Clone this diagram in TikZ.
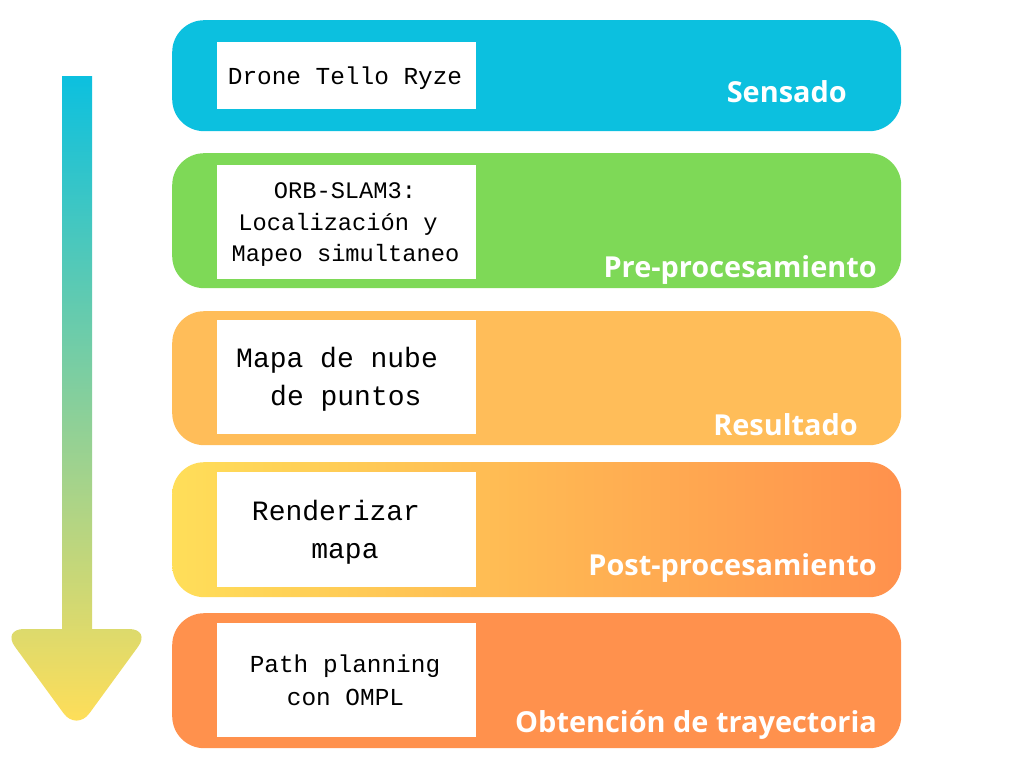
\documentclass[tikz,border=0pt]{standalone}
\usepackage{fontspec}
\setmainfont{Open Sans}
\newfontfamily\monofont{Liberation Mono}
\newfontfamily\labelfont{Open Sans}
\definecolor{cCyan}{HTML}{0CC0DF}
\definecolor{cGreen}{HTML}{7ED957}
\definecolor{cLight}{HTML}{FFBD59}
\definecolor{cYellow}{HTML}{FFDE59}
\definecolor{cOrange}{HTML}{FF914D}
\tikzset{
  band/.style={rounded corners=32pt, inner sep=0pt, minimum width=729pt, anchor=north west, draw=none},
  wbox/.style={fill=white, inner sep=0pt, minimum width=259pt, anchor=north west, draw=none},
  mono/.style={font=\monofont\fontsize{24.4}{29}\selectfont, inner sep=0pt, anchor=base, text=black},
  monobig/.style={font=\monofont\fontsize{28}{34}\selectfont, inner sep=0pt, anchor=base, text=black},
  stage/.style={font=\labelfont\bfseries\fontsize{28.9}{34}\selectfont, text=white, inner sep=0pt, anchor=base east},
  arrowshade/.style={top color=cCyan, bottom color=cYellow},
}
\begin{document}
\begin{tikzpicture}[x=1pt,y=-1pt]
\useasboundingbox (0,0) rectangle (1024,768);
% arrow: shaft and head share one gradient
\begin{scope}
  \clip (62,76) rectangle (92,640);
  \shade[arrowshade] (0,76) rectangle (155,722);
\end{scope}
\begin{scope}
  \clip[rounded corners=22pt] (76.5,629) -- (151,629) -- (76.5,731) -- (2,629) -- cycle;
  \shade[arrowshade] (0,76) rectangle (155,722);
\end{scope}
% bands
\node[band, fill=cCyan,   minimum height=111pt] (b1) at (172,20) {};
\node[band, fill=cGreen,  minimum height=135pt] (b2) at (172,153) {};
\node[band, fill=cLight,  minimum height=134pt] (b3) at (172,311) {};
\node[band, left color=cYellow, right color=cOrange, minimum height=135pt] (b4) at (172,462) {};
\node[band, fill=cOrange, minimum height=135pt] (b5) at (172,613) {};
% white boxes
\node[wbox, minimum height=67pt]  (w1) at (217,42) {};
\node[wbox, minimum height=114pt] (w2) at (217,165) {};
\node[wbox, minimum height=114pt] (w3) at (217,320) {};
\node[wbox, minimum height=115pt] (w4) at (217,472) {};
\node[wbox, minimum height=114pt] (w5) at (217,623) {};
% box texts
\node[mono] (t1) at (345,84) {Drone Tello Ryze};
\node[mono, font=\monofont\fontsize{23.7}{29}\selectfont] (t2a) at (345,198) {ORB-SLAM3:};
\node[mono, font=\monofont\fontsize{23.7}{29}\selectfont] (t2b) at (338,230) {Localización y};
\node[mono, font=\monofont\fontsize{23.7}{29}\selectfont] (t2c) at (345.5,261) {Mapeo simultaneo};
\node[monobig, anchor=base west] (t3a) at (236,367) {Mapa de nube};
\node[monobig, anchor=base west] (t3b) at (270,405) {de puntos};
\node[monobig] (t4a) at (336,520) {Renderizar};
\node[monobig] (t4b) at (345,558) {mapa};
\node[mono] (t5a) at (345,672) {Path planning};
\node[mono] (t5b) at (345.5,705) {con OMPL};
% stage labels
\node[stage] (l1) at (847,102) {Sensado};
\node[stage] (l2) at (877,277) {Pre-procesamiento};
\node[stage] (l3) at (858,435) {Resultado};
\node[stage] (l4) at (877,575) {Post-procesamiento};
\node[stage] (l5) at (877,732) {Obtención de trayectoria};
\end{tikzpicture}
\end{document}
